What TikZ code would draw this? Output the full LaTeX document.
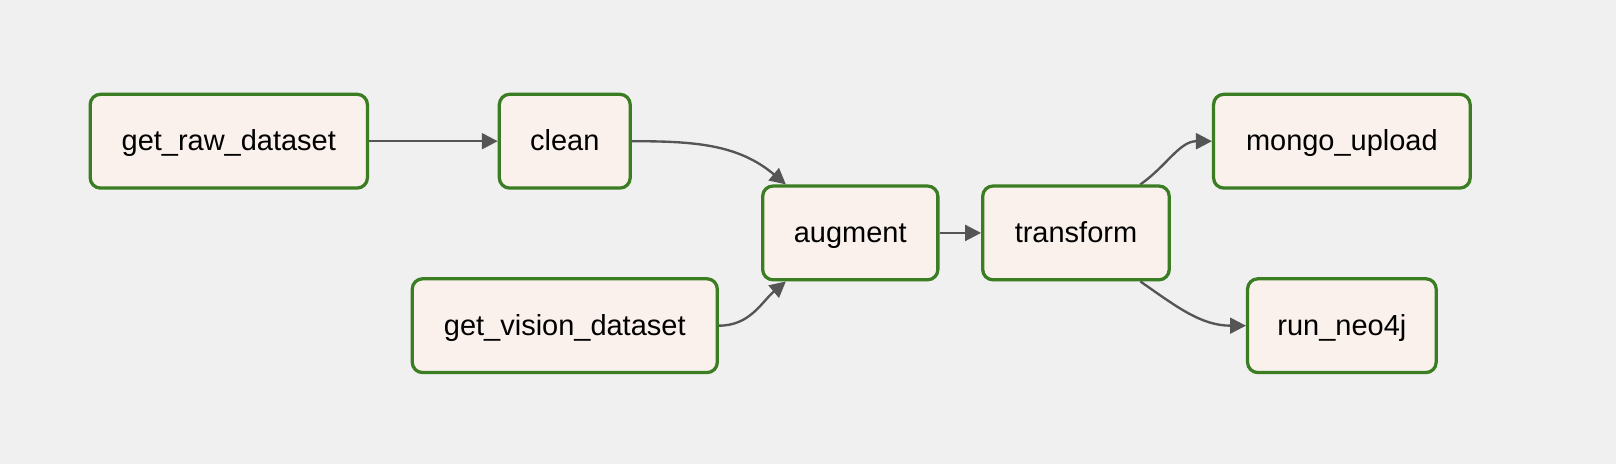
\documentclass[tikz,border=0pt]{standalone}
\usepackage{fontspec}
\setmainfont{Liberation Sans}
\usetikzlibrary{arrows.meta}
\definecolor{bgcol}{HTML}{F0F0F0}
\definecolor{taskfill}{HTML}{FAF0EC}
\definecolor{taskline}{HTML}{3A7D22}
\definecolor{edgecol}{HTML}{555555}
\begin{document}
\begin{tikzpicture}[
  task/.style={draw=taskline,fill=taskfill,line width=0.9pt,rounded corners=0.1cm,
    minimum height=0.91cm,inner sep=0pt,text height=1ex,text depth=0pt,
    font=\fontsize{8}{10}\selectfont},
  edge/.style={draw=edgecol,line width=0.65pt,-{Triangle[length=4.4pt,width=4.4pt]}}]
\fill[bgcol] (0,0) rectangle (15.68,4.5);
\useasboundingbox (0,0) rectangle (15.68,4.5);
\node[task,minimum width=2.69cm] (raw) at (2.22,3.13) {get\_raw\_dataset};
\node[task,minimum width=1.27cm] (clean) at (5.48,3.13) {clean};
\node[task,minimum width=2.96cm] (vision) at (5.48,1.34) {get\_vision\_dataset};
\node[task,minimum width=1.70cm] (augment) at (8.25,2.24) {augment};
\node[task,minimum width=1.81cm] (transform) at (10.44,2.24) {transform};
\node[task,minimum width=2.49cm] (mongo) at (13.02,3.13) {mongo\_upload};
\node[task,minimum width=1.83cm] (neo) at (13.02,1.34) {run\_neo4j};
\draw[edge] (raw) -- (clean);
\draw[edge] (clean.east) to[out=0,in=140] (augment.143);
\draw[edge] (vision.east) to[out=0,in=220] (augment.217);
\draw[edge] (augment) -- (transform);
\draw[edge] (transform.37) to[out=35,in=180] (mongo.west);
\draw[edge] (transform.323) to[out=-35,in=180] (neo.west);
\end{tikzpicture}
\end{document}
